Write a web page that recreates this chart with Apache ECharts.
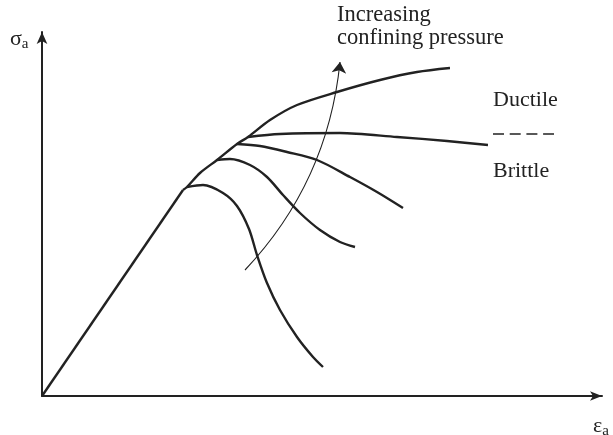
<!DOCTYPE html>
<html>
<head>
<meta charset="utf-8">
<script src="https://cdn.jsdelivr.net/npm/echarts@6/dist/echarts.min.js"></script>
<style>html,body{margin:0;padding:0;background:#fff}#c{width:613px;height:435px}</style>
</head>
<body>
<div id="c"></div>
<script>
// Schematic stress-strain curves (x = axial strain, y = axial stress), arbitrary units
var riseCurve = [[0, 0], [141, 206]];
var envelopeCurve = [[141, 206], [145, 209], [158, 223], [175, 236], [195, 252], [206, 259], [228, 276], [255, 291], [295, 304], [338, 316], [375, 324], [408, 328]];
var curve1 = [[145, 209], [161, 211], [181, 203], [195, 190], [207, 167], [215, 141], [225, 113], [238, 86], [255, 59], [271, 39], [281, 29]];
var curve2 = [[175, 236], [188, 237], [208, 231], [225, 219], [241, 201], [258, 183], [278, 166], [298, 154], [313, 149]];
var curve3 = [[195, 252], [218, 250], [245, 244], [275, 236], [308, 219], [335, 204], [361, 188]];
var curve4 = [[206, 259], [238, 262], [298, 263], [355, 259], [405, 255], [446, 251]];
var pressureArrow = [[203, 126], [298, 334]];

var chart = echarts.init(document.getElementById('c'), null, {renderer: 'canvas'});
var ink = '#222';
function curve(data, smooth) {
  return {type: 'line', data: data, smooth: smooth, showSymbol: false, symbol: 'none',
    lineStyle: {color: ink, width: 2.4}, silent: true, animation: false};
}
var serif = '"Liberation Serif", "DejaVu Serif", serif';
chart.setOption({
  animation: false,
  grid: {left: 42, right: 11, top: 32, bottom: 39},
  xAxis: {type: 'value', min: 0, max: 560,
    axisLine: {show: true, symbol: ['none', 'arrow'], symbolSize: [7, 12], lineStyle: {color: ink, width: 2}},
    axisTick: {show: false}, axisLabel: {show: false}, splitLine: {show: false}},
  yAxis: {type: 'value', min: 0, max: 364,
    axisLine: {show: true, symbol: ['none', 'arrow'], symbolSize: [8, 12], lineStyle: {color: ink, width: 2}},
    axisTick: {show: false}, axisLabel: {show: false}, splitLine: {show: false}},
  series: [
    curve(riseCurve, false),
    curve(envelopeCurve, 0.3),
    curve(curve1, 0.3),
    curve(curve2, 0.3),
    curve(curve3, 0.3),
    curve(curve4, 0.3),
    {type: 'lines', coordinateSystem: 'cartesian2d', silent: true, animation: false,
      symbol: ['none', 'arrow'], symbolSize: [7, 11],
      lineStyle: {color: ink, width: 1.1, curveness: -0.17, opacity: 1},
      data: [{coords: pressureArrow}]}
  ],
  graphic: [
    {type: 'text', left: 337, top: 4, style: {text: 'Increasing\nconfining pressure', font: '22.5px ' + serif, fill: ink, lineHeight: 23}},
    {type: 'text', left: 493, top: 89, style: {text: 'Ductile', font: '22px ' + serif, fill: ink}},
    {type: 'text', left: 493, top: 160, style: {text: 'Brittle', font: '22px ' + serif, fill: ink}},
    {type: 'line', shape: {x1: 493, y1: 134, x2: 554, y2: 134}, style: {stroke: ink, lineWidth: 1.5, lineDash: [11, 5.7]}},
    {type: 'text', left: 10, top: 28, style: {text: '{s|σ}{a|a}', fill: ink,
      rich: {s: {font: '22px ' + serif, fill: ink}, a: {font: '15px ' + serif, fill: ink, padding: [10, 0, 0, 0]}}}},
    {type: 'text', left: 593, top: 415, style: {text: '{s|ε}{a|a}', fill: ink,
      rich: {s: {font: '22px ' + serif, fill: ink}, a: {font: '15px ' + serif, fill: ink, padding: [10, 0, 0, 0]}}}}
  ]
});
</script>
</body>
</html>
